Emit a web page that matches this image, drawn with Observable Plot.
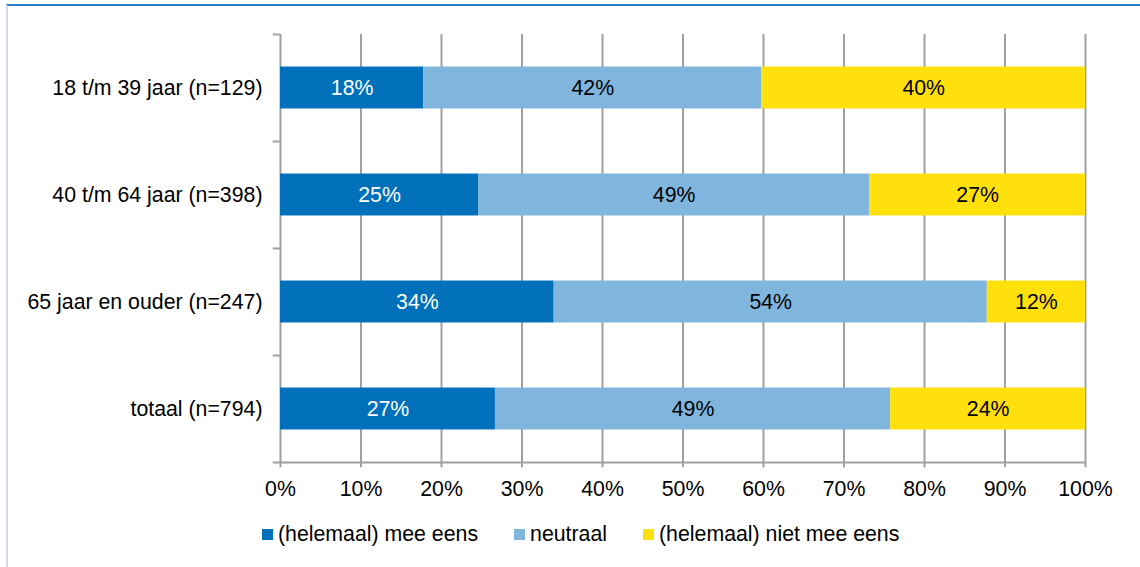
<!DOCTYPE html>
<html>
<head>
<meta charset="utf-8">
<script src="https://cdn.jsdelivr.net/npm/d3@7"></script>
<script src="https://cdn.jsdelivr.net/npm/@observablehq/plot@0.6"></script>
<style>
  html, body { margin: 0; padding: 0; background: #fff; }
  body { width: 1140px; height: 567px; overflow: hidden; position: relative; font-family: "Liberation Sans", Arial, sans-serif; }
  #frame { position: absolute; left: 6px; top: 4px; width: 1140px; height: 580px; border-top: 2px solid #2a7bc6; border-left: 2px solid #cddcf1; box-sizing: border-box; }
  #chart { position: absolute; left: 0; top: 0; }
  #legend { position: absolute; left: 262px; top: 522px; display: flex; align-items: center; font-size: 21.3px; color: #000; white-space: nowrap; }
  .item { display: flex; align-items: center; margin-right: 36px; }
  .sw { width: 11px; height: 11px; margin-right: 5px; }
</style>
</head>
<body>
<div id="frame"></div>
<div id="chart"></div>
<div id="legend"></div>
<script>
const categories = ["18 t/m 39 jaar (n=129)", "40 t/m 64 jaar (n=398)", "65 jaar en ouder (n=247)", "totaal (n=794)"];
const series = ["(helemaal) mee eens", "neutraal", "(helemaal) niet mee eens"];
const meeEens = [17.8, 24.6, 34.0, 26.7];
const neutraal = [42.0, 48.6, 53.8, 49.1];
const nietMeeEens = [40.2, 26.8, 12.2, 24.2];
const xTicks = [0, 10, 20, 30, 40, 50, 60, 70, 80, 90, 100];
const colors = ["#0070bb", "#80b6dd", "#ffe00d"];
const labelColors = ["#ffffff", "#000000", "#000000"];

const values = [meeEens, neutraal, nietMeeEens];
const table = [];
categories.forEach((cat, i) => {
  let acc = 0;
  series.forEach((s, k) => {
    const v = values[k][i];
    table.push({cat, i, series: s, k, value: v, x1: acc, x2: acc + v, y1: i + 0.304, y2: i + 0.696, yc: i + 0.5});
    acc += v;
  });
});

const fs = 21.3;
const chart = Plot.plot({
  width: 1140,
  height: 500,
  marginLeft: 280,
  marginRight: 55,
  marginTop: 34,
  marginBottom: 38,
  x: {domain: [0, 100]},
  y: {domain: [0, 4], reverse: true},
  color: {domain: series, range: colors},
  style: {fontFamily: "'Liberation Sans', Arial, sans-serif", fontSize: fs + "px", color: "#000", background: "transparent"},
  marks: [
    Plot.ruleX(xTicks, {x: d => d, y1: 0, y2: 4.05, stroke: "#a0a0a0", strokeWidth: 2, strokeOpacity: 1}),
    Plot.ruleY([4], {x1: -0.9, x2: 100, stroke: "#a0a0a0", strokeWidth: 2, strokeOpacity: 1}),
    Plot.ruleY([0, 1, 2, 3], {x1: -0.9, x2: 0, stroke: "#a0a0a0", strokeWidth: 2, strokeOpacity: 1}),
    Plot.rectX(table, {x1: "x1", x2: "x2", y1: "y1", y2: "y2", fill: "series"}),
    Plot.text(table, {x: d => (d.x1 + d.x2) / 2, y: "yc", text: d => Math.round(d.value) + "%", fill: d => labelColors[d.k], fontSize: fs}),
    Plot.axisX(xTicks, {tickSize: 0, tickPadding: 18, tickFormat: d => d + "%", label: null, fontSize: fs}),
    Plot.axisY(categories.map((c, i) => i + 0.5), {tickSize: 0, tickPadding: 18, tickFormat: d => categories[Math.floor(d)], label: null, fontSize: fs})
  ]
});
document.getElementById("chart").appendChild(chart);

const legend = document.getElementById("legend");
series.forEach((s, k) => {
  const item = document.createElement("div");
  item.className = "item";
  const sw = document.createElement("div");
  sw.className = "sw";
  sw.style.background = colors[k];
  const t = document.createElement("span");
  t.textContent = s;
  item.appendChild(sw);
  item.appendChild(t);
  legend.appendChild(item);
});
</script>
</body>
</html>
